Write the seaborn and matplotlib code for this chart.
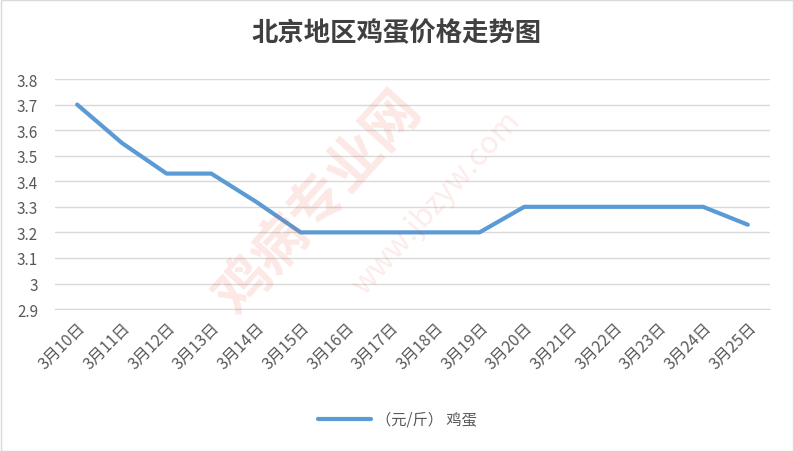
import pandas as pd
import matplotlib.pyplot as plt
import seaborn as sns

# données : prix des oeufs à Pékin
dates = ['3月10日', '3月11日', '3月12日', '3月13日', '3月14日', '3月15日', '3月16日', '3月17日',
         '3月18日', '3月19日', '3月20日', '3月21日', '3月22日', '3月23日', '3月24日', '3月25日']
prices = [3.7, 3.55, 3.43, 3.43, 3.32, 3.2, 3.2, 3.2, 3.2, 3.2, 3.3, 3.3, 3.3, 3.3, 3.3, 3.23]
yticks = [2.9, 3.0, 3.1, 3.2, 3.3, 3.4, 3.5, 3.6, 3.7, 3.8]
ytick_labels = ['2.9', '3', '3.1', '3.2', '3.3', '3.4', '3.5', '3.6', '3.7', '3.8']

df = pd.DataFrame({'pos': range(len(dates)), 'date': dates, 'price': prices})

sns.set_style('white')
plt.rcParams['font.family'] = ['Noto Sans CJK SC', 'DejaVu Sans']

fig = plt.figure(figsize=(7.94, 4.52), dpi=100)
ax = fig.add_axes([0.069, 0.314, 0.901, 0.509])

# filigrane
fig.text(0.40, 0.55, '鸡病专业网', fontsize=40, color='#e8442e', alpha=0.12,
         rotation=48, ha='center', va='center', fontweight='bold')
fig.text(0.55, 0.55, 'www.jbzyw.com', fontsize=22, color='#e8442e', alpha=0.10,
         rotation=48, ha='center', va='center')

sns.lineplot(data=df, x='pos', y='price', ax=ax, color='#5b9bd5', linewidth=3,
             label='（元/斤） 鸡蛋')

ax.set_xlim(-0.5, len(dates) - 0.5)
ax.set_ylim(2.9, 3.8)
ax.set_yticks(yticks)
ax.set_yticklabels(ytick_labels)
ax.set_xticks(range(len(dates)))
ax.set_xticklabels(dates, rotation=45, ha='right', rotation_mode='anchor')
ax.set_xticks([i - 0.5 for i in range(len(dates) + 1)], minor=True)
ax.tick_params(axis='x', which='major', length=0, pad=7, labelsize=11.5, colors='#595959')
ax.tick_params(axis='x', which='minor', length=5, color='#d9d9d9', width=1)
ax.tick_params(axis='y', length=0, labelsize=11, colors='#595959', pad=12)
ax.grid(axis='y', color='#d9d9d9', linewidth=1)
ax.set_axisbelow(True)
for side in ['top', 'right', 'left']:
    ax.spines[side].set_visible(False)
ax.spines['bottom'].set_color('#d9d9d9')
ax.set_xlabel('')
ax.set_ylabel('')

ax.legend(loc='center', bbox_to_anchor=(0.5, 0.07), bbox_transform=fig.transFigure,
          frameon=False, fontsize=11, handlelength=3.5, handletextpad=0.3,
          labelcolor='#595959')

fig.text(0.5, 0.925, '北京地区鸡蛋价格走势图', ha='center', va='center',
         fontsize=19, fontweight='bold', color='#404040')

# bordure
fig.patches.append(plt.Rectangle((0.001, 0.001), 0.998, 0.997, transform=fig.transFigure,
                                 fill=False, edgecolor='#d9d9d9', linewidth=1))

fig.savefig('out.png', dpi=100)
